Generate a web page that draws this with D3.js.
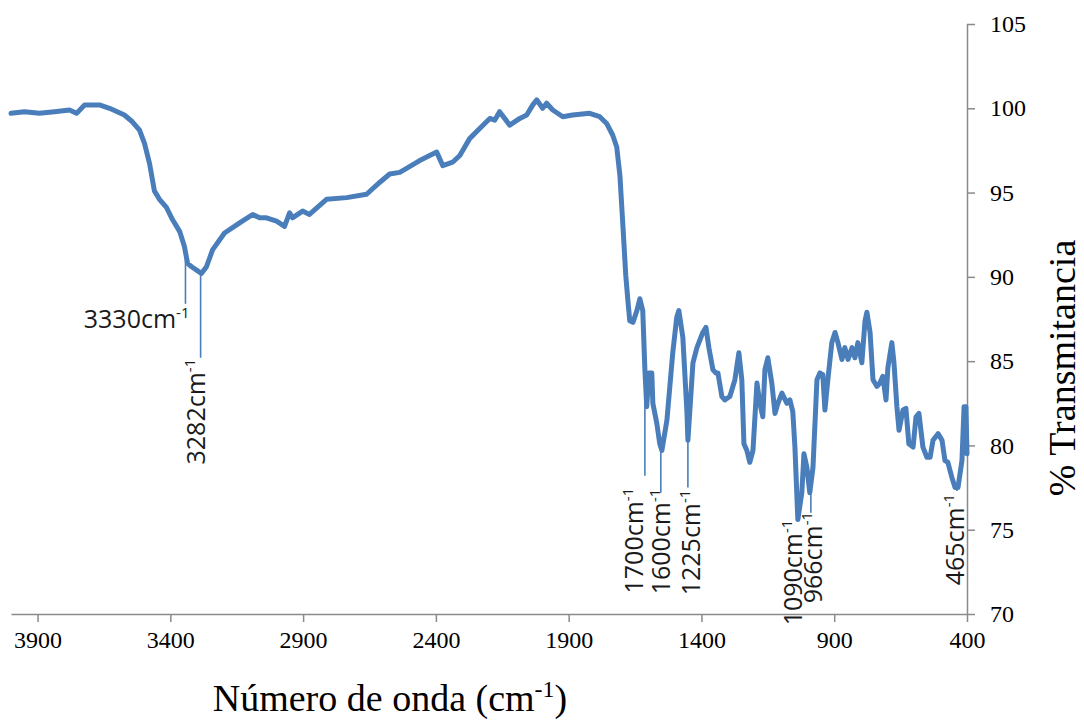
<!DOCTYPE html>
<html>
<head>
<meta charset="utf-8">
<script src="https://cdn.jsdelivr.net/npm/d3@7"></script>
<style>
  body { margin: 0; background: #fff; }
  svg { display: block; }
</style>
</head>
<body>
<svg id="chart" width="1084" height="722"></svg>
<script>
// FTIR spectrum: wavenumber (cm-1) against % transmittance
const wavenumber = [
  4000, 3949, 3893, 3836, 3780, 3753, 3723, 3667, 3629, 3573,
  3543, 3516, 3497, 3478, 3460, 3441, 3414, 3392, 3365, 3347,
  3335, 3320, 3301, 3283, 3264, 3241, 3196, 3139, 3090, 3064,
  3038, 3000, 2970, 2951, 2940, 2902, 2876, 2812, 2736, 2661,
  2612, 2574, 2536, 2461, 2397, 2374, 2337, 2310, 2273, 2235,
  2197, 2178, 2160, 2122, 2084, 2058, 2035, 2020, 1998, 1983,
  1960, 1922, 1885, 1821, 1783, 1757, 1734, 1719, 1707, 1696,
  1685, 1677, 1670, 1658, 1643, 1632, 1621, 1613, 1606, 1598,
  1587, 1583, 1568, 1557, 1549, 1530, 1508, 1493, 1485, 1470,
  1455, 1451, 1432, 1417, 1395, 1383, 1372, 1357, 1346, 1338,
  1323, 1312, 1293, 1274, 1259, 1248, 1240, 1229, 1218, 1206,
  1191, 1180, 1169, 1161, 1150, 1135, 1123, 1112, 1097, 1078,
  1067, 1056, 1048, 1037, 1022, 1014, 1003, 992, 980, 965,
  954, 943, 935, 924, 909, 897, 886, 871, 860, 848,
  833, 822, 811, 796, 784, 777, 765, 754, 739, 728,
  717, 705, 698, 683, 675, 664, 656, 641, 630, 619,
  603, 592, 581, 566, 551, 539, 528, 509, 494, 483,
  472, 457, 445, 434, 419, 411, 404, 400
];
const transmittance = [
  99.7, 99.8, 99.7, 99.8, 99.9, 99.7, 100.2, 100.2, 100.0, 99.6,
  99.2, 98.7, 97.9, 96.7, 95.1, 94.6, 94.1, 93.4, 92.7, 91.8,
  90.8, 90.6, 90.4, 90.2, 90.6, 91.6, 92.6, 93.2, 93.7, 93.5,
  93.5, 93.3, 93.0, 93.8, 93.5, 93.9, 93.7, 94.6, 94.7, 94.9,
  95.6, 96.1, 96.2, 96.9, 97.4, 96.6, 96.8, 97.2, 98.2, 98.8,
  99.4, 99.3, 99.8, 99.0, 99.4, 99.6, 100.2, 100.5, 100.0, 100.3,
  99.9, 99.5, 99.6, 99.7, 99.5, 99.1, 98.4, 97.7, 96.0, 93.1,
  90.1, 88.6, 87.4, 87.3, 88.0, 88.7, 88.0, 84.5, 82.3, 84.3,
  84.3, 82.5, 81.3, 80.1, 79.7, 81.5, 85.5, 87.6, 88.0, 86.4,
  82.1, 80.3, 84.9, 85.8, 86.7, 87.0, 85.8, 84.5, 84.3, 84.3,
  82.9, 82.7, 82.9, 83.9, 85.5, 83.9, 80.1, 79.7, 79.0, 79.7,
  83.7, 82.5, 81.7, 84.5, 85.2, 83.7, 81.9, 82.5, 83.1, 82.5,
  82.7, 82.0, 79.9, 75.6, 77.2, 79.5, 78.7, 77.2, 78.7, 83.9,
  84.3, 84.2, 82.1, 83.9, 86.1, 86.7, 86.1, 85.1, 85.8, 85.1,
  85.8, 85.2, 86.1, 84.9, 87.4, 87.9, 86.7, 83.9, 83.5, 83.7,
  84.1, 82.7, 84.6, 86.1, 84.9, 82.3, 80.9, 82.1, 82.2, 80.1,
  79.9, 81.7, 81.9, 79.9, 79.3, 79.3, 80.3, 80.7, 80.3, 79.1,
  79.0, 78.1, 77.5, 77.5, 79.1, 82.3, 82.3, 79.5
];

const xTicks = [3900, 3400, 2900, 2400, 1900, 1400, 900, 400];
const yTicks = [70, 75, 80, 85, 90, 95, 100, 105];

// Band assignments: label text, where the leader meets the trace, and where it ends
const bandLabels = ["3330", "3282", "1700", "1600", "1225", "1090", "966", "465"];
const bandLeaderAt = [3343, 3286, 1613, 1553, 1451, 1037, 988, 438];
const bandLeaderEnd = [88.4, 85.2, 78.2, 77.2, 77.5, 75.6, 76.0, 77.3];

// ---- layout ----
const svg = d3.select("#chart");
const plotLeft = 11, plotRight = 967, plotTop = 24, plotBottom = 614;
const x = d3.scaleLinear().domain([4000, 400]).range([plotLeft, plotRight]);
const y = d3.scaleLinear().domain([70, 105]).range([plotBottom, plotTop]);

const axisColor = "#8a8a8a";
const traceColor = "#4a7ebb";
const serif = "'Liberation Serif', 'Times New Roman', serif";
const sans = "'Open Sans', 'Noto Sans', sans-serif";

// label placement relative to the end of each leader: [dx, dy, rotated]
const labelNudge = [[4, 24, false], [4, 1, true], [-2, 12, true], [9, -4, true],
                    [12, 2, true], [4, 0, true], [11, -1, true], [7, 3, true]];

// ---- axes ----
const gx = svg.append("g")
  .attr("transform", `translate(0,${plotBottom})`)
  .call(d3.axisBottom(x).tickValues(xTicks).tickFormat(d3.format("d"))
    .tickSize(8).tickSizeOuter(0).tickPadding(9));
gx.attr("font-family", serif).attr("font-size", 24);
gx.select(".domain").attr("stroke", axisColor).attr("stroke-width", 1.5);
gx.selectAll(".tick line").attr("stroke", axisColor).attr("stroke-width", 1.5);
gx.selectAll(".tick text").attr("fill", "#000");

const gy = svg.append("g")
  .attr("transform", `translate(${plotRight},0)`)
  .call(d3.axisRight(y).tickValues(yTicks).tickFormat(d3.format("d"))
    .tickSize(8).tickSizeOuter(0).tickPadding(15));
gy.attr("font-family", serif).attr("font-size", 24);
gy.select(".domain").attr("stroke", axisColor).attr("stroke-width", 1.5);
gy.selectAll(".tick line").attr("stroke", axisColor).attr("stroke-width", 1.5);
gy.selectAll(".tick text").attr("fill", "#000");

// ---- axis titles ----
const xTitle = svg.append("text")
  .attr("x", 390).attr("y", 711)
  .attr("text-anchor", "middle")
  .attr("font-family", serif).attr("font-size", 38).attr("fill", "#000");
xTitle.append("tspan").text("Número de onda (cm");
xTitle.append("tspan").attr("dy", -14).attr("font-size", 24).text("-1");
xTitle.append("tspan").attr("dy", 14).text(")");

svg.append("text")
  .attr("transform", "translate(1075,368) rotate(-90)")
  .attr("text-anchor", "middle")
  .attr("font-family", serif).attr("font-size", 38).attr("fill", "#000")
  .text("% Transmitancia");

// ---- spectrum ----
const points = wavenumber.map((w, i) => [w, transmittance[i]]);
svg.append("path")
  .datum(points)
  .attr("fill", "none")
  .attr("stroke", traceColor)
  .attr("stroke-width", 5)
  .attr("stroke-linejoin", "round")
  .attr("stroke-linecap", "round")
  .attr("d", d3.line().x(d => x(d[0])).y(d => y(d[1])));

// transmittance on the trace at a given wavenumber
function traceAt(w) {
  for (let i = 1; i < wavenumber.length; i++) {
    if (wavenumber[i] <= w) {
      const w0 = wavenumber[i - 1], w1 = wavenumber[i];
      const t = (w0 - w) / (w0 - w1);
      return transmittance[i - 1] + t * (transmittance[i] - transmittance[i - 1]);
    }
  }
  return transmittance[transmittance.length - 1];
}

// ---- band leaders and labels ----
bandLabels.forEach((lab, i) => {
  const lx = x(bandLeaderAt[i]);
  const y0 = y(traceAt(bandLeaderAt[i]));
  const y1 = y(bandLeaderEnd[i]);
  svg.append("line")
    .attr("x1", lx).attr("x2", lx)
    .attr("y1", y0).attr("y2", y1)
    .attr("stroke", traceColor).attr("stroke-width", 1.6);

  const [dx, dy, rotated] = labelNudge[i];
  const t = svg.append("text")
    .attr("font-family", sans).attr("font-size", 25).attr("fill", "#1a1a1a")
    .attr("text-anchor", "end");
  if (rotated) {
    t.attr("transform", `translate(${lx + dx},${y1 + dy}) rotate(-90)`);
  } else {
    t.attr("x", lx + dx).attr("y", y1 + dy);
  }
  t.append("tspan").text(lab + "cm");
  t.append("tspan").attr("dy", -10).attr("font-size", 15).text("-1");
});
</script>
</body>
</html>
